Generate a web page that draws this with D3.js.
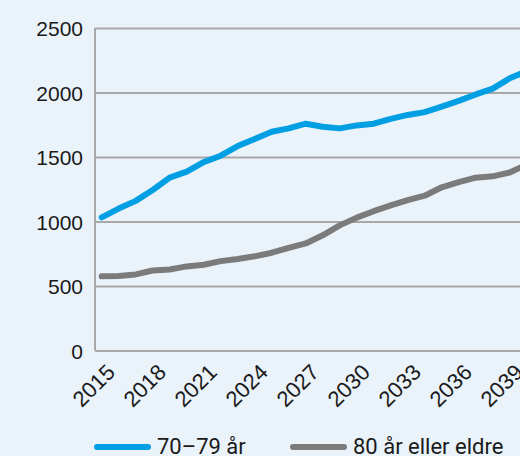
<!DOCTYPE html>
<html>
<head>
<meta charset="utf-8">
<script src="https://cdnjs.cloudflare.com/ajax/libs/d3/7.8.5/d3.min.js"></script>
<style>
  body { margin: 0; background: #eaf2fa; }
  svg { display: block; font-family: Roboto, "Noto Sans", sans-serif; }
</style>
</head>
<body>
<div id="chart"></div>
<script>
// data
var years = d3.range(2015, 2041);
var age7079 = [1032, 1100, 1160, 1244, 1340, 1386, 1460, 1510, 1585, 1640,
    1696, 1722, 1758, 1735, 1722, 1745, 1758, 1795, 1826, 1848,
    1890, 1935, 1985, 2030, 2110, 2165];
var age80 = [575, 578, 590, 620, 628, 652, 665, 693, 710, 730,
    758, 795, 830, 893, 970, 1030, 1080, 1125, 1165, 1200,
    1265, 1305, 1340, 1350, 1380, 1440];
var yTicks = [0, 500, 1000, 1500, 2000, 2500];
var xTicks = [2015, 2018, 2021, 2024, 2027, 2030, 2033, 2036, 2039];
var seriesNames = ["70\u201379 år", "80 år eller eldre"];
var colors = ["#009fe3", "#7b7b7b"];

//svg area
var svgWidth = 520;
var svgHeight = 456;

var svg = d3.select("#chart")
    .append("svg")
    .attr("width", svgWidth)
    .attr("height", svgHeight);

svg.append("rect")
    .attr("width", svgWidth)
    .attr("height", svgHeight)
    .attr("fill", "#eaf2fa");

// plot area (runs off the right edge like the original)
var plotLeft = 95;
var plotTop = 28;
var plotBottom = 350.5;

var xScale = d3.scaleLinear()
    .domain([2015, 2040])
    .range([101.7, 526.7]);

var yScale = d3.scaleLinear()
    .domain([0, 2500])
    .range([plotBottom, plotTop]);

// gridlines + y labels
var yAxis = svg.append("g")
    .attr("transform", `translate(${plotLeft}, 0)`)
    .call(d3.axisLeft(yScale)
        .tickValues(yTicks)
        .tickFormat(d3.format("d"))
        .tickSize(-(svgWidth - plotLeft + 20))
        .tickPadding(12));

yAxis.select(".domain").remove();
yAxis.selectAll(".tick line")
    .attr("stroke", "#a9a9a9")
    .attr("stroke-width", 2);
yAxis.selectAll(".tick text")
    .attr("fill", "#1a1a1a")
    .attr("font-size", 21)
    .attr("dy", "0.38em");

// left axis line
svg.append("line")
    .attr("x1", plotLeft)
    .attr("x2", plotLeft)
    .attr("y1", plotTop)
    .attr("y2", plotBottom)
    .attr("stroke", "#a9a9a9")
    .attr("stroke-width", 2);

// x labels, rotated
var xAxis = svg.append("g")
    .attr("transform", `translate(0, ${plotBottom})`)
    .call(d3.axisBottom(xScale)
        .tickValues(xTicks)
        .tickFormat(d3.format("d"))
        .tickSize(0));

xAxis.select(".domain").remove();
xAxis.selectAll(".tick text")
    .attr("fill", "#1a1a1a")
    .attr("font-size", 22)
    .attr("text-anchor", "end")
    .attr("transform", "translate(12, 21) rotate(-45)")
    .attr("dy", "0");

// lines
var lineGen = d3.line()
    .x((d, i) => xScale(years[i]))
    .y(d => yScale(d));

[age7079, age80].forEach(function(vals, i) {
    svg.append("path")
        .datum(vals)
        .attr("fill", "none")
        .attr("stroke", colors[i])
        .attr("stroke-width", 6)
        .attr("stroke-linejoin", "round")
        .attr("stroke-linecap", "round")
        .attr("d", lineGen);
});

// legend
var legendX = [97, 293];
seriesNames.forEach(function(name, i) {
    var g = svg.append("g")
        .attr("transform", `translate(${legendX[i]}, 447)`);
    g.append("line")
        .attr("x1", 0)
        .attr("x2", 51)
        .attr("stroke", colors[i])
        .attr("stroke-width", 6)
        .attr("stroke-linecap", "round");
    g.append("text")
        .attr("x", 60)
        .attr("y", 7)
        .attr("font-size", 22)
        .attr("fill", "#1a1a1a")
        .text(name);
});
</script>
</body>
</html>
